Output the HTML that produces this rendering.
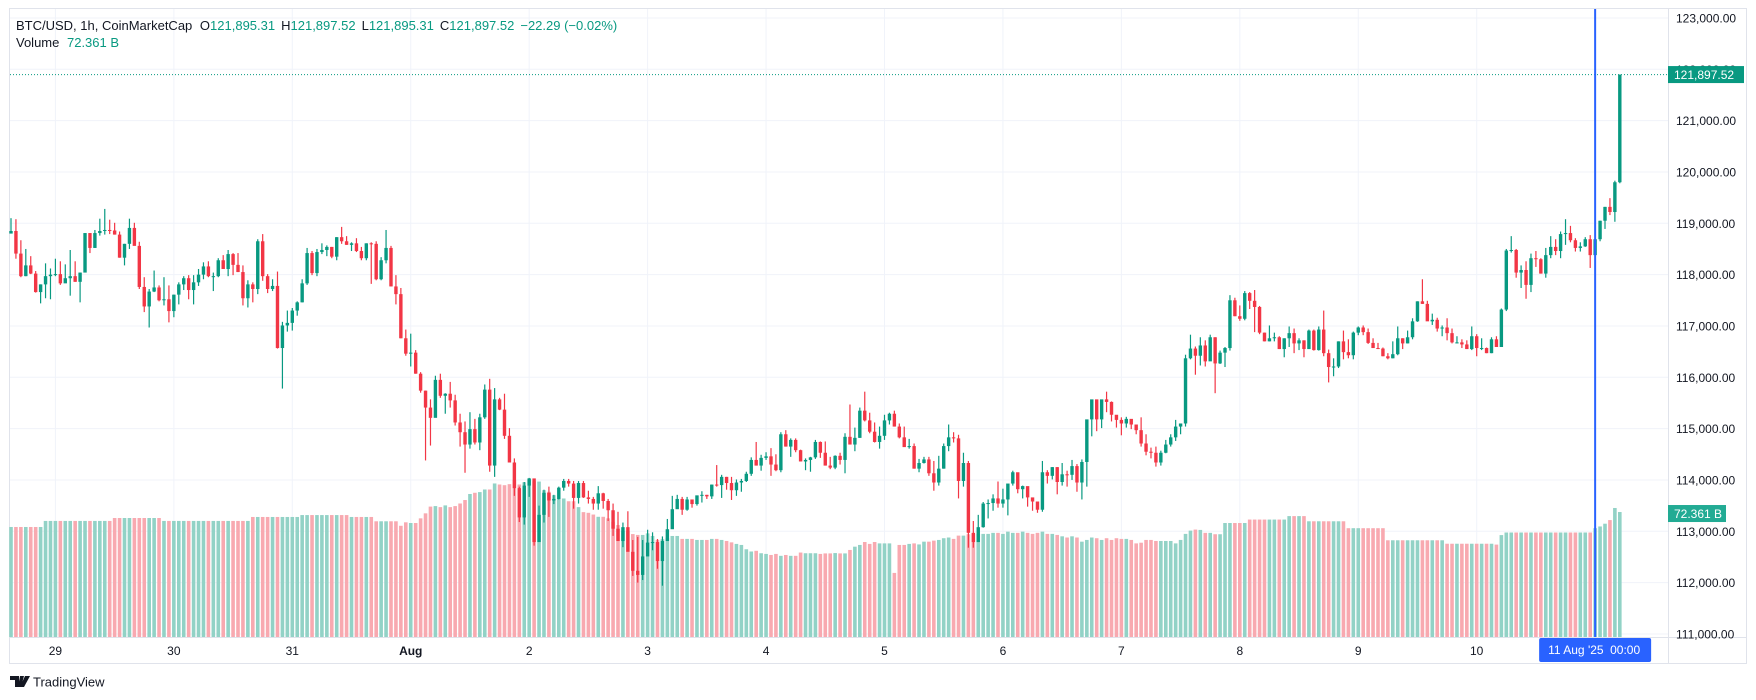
<!DOCTYPE html>
<html><head><meta charset="utf-8"><style>
html,body{margin:0;padding:0;background:#fff;width:1756px;height:700px;overflow:hidden}
svg{display:block;font-family:"Liberation Sans",sans-serif}
</style></head><body>
<svg id="chart" width="1756" height="700" viewBox="0 0 1756 700">
<rect x="9.5" y="8.5" width="1737" height="655" fill="#fff" stroke="#e0e3eb"/>
<g id="grid"></g>
<g id="vol"></g>
<g id="candles"></g>
<g id="axes"></g>
<g id="overlay"></g>
<text x="16" y="30" font-size="13" fill="#131722">BTC/USD, 1h, CoinMarketCap <tspan dx="4">O</tspan><tspan fill="#089981">121,895.31</tspan><tspan dx="6">H</tspan><tspan fill="#089981">121,897.52</tspan><tspan dx="6">L</tspan><tspan fill="#089981">121,895.31</tspan><tspan dx="6">C</tspan><tspan fill="#089981">121,897.52</tspan><tspan dx="6" fill="#089981">−22.29 (−0.02%)</tspan></text>
<text x="16" y="47" font-size="13" fill="#131722">Volume <tspan dx="4" fill="#089981">72.361 B</tspan></text>
<g>
<path d="M10 676h9v11h-4v-7h-5z M20 676h4l-3 11h-3z M25 676h5l-6 11h-4z" fill="#131722"/>
<text x="33" y="686.5" font-size="13" fill="#131722">TradingView</text>
</g>
</svg>
<script>
const firstOpen = 118800;
const closes = [118850,118410,117970,118180,118020,117660,117810,117970,118000,118010,117830,117930,117970,117860,118040,118810,118520,118810,118850,118870,118860,118780,118330,118600,118910,118560,117760,117380,117670,117750,117500,117520,117290,117610,117810,117930,117700,117850,118000,118160,117970,117970,118280,118110,118400,118190,118050,117540,117810,117720,118650,117970,117720,117780,116570,117010,117060,117300,117460,117830,118420,118030,118440,118480,118540,118350,118730,118650,118580,118610,118460,118320,118610,118600,117910,118280,118520,117770,117620,116760,116460,116480,116070,115740,115410,115210,115950,115640,115680,115550,115120,114930,114690,114990,114730,115220,115760,114280,115570,115370,114860,114340,113840,113270,113890,114030,112790,113320,113750,113600,113630,113850,113980,113930,113650,113940,113660,113630,113540,113740,113590,113410,113050,112810,113080,112600,112230,112150,112510,112780,112790,112420,112810,113040,113430,113630,113420,113620,113530,113700,113710,113680,113910,113900,114060,113940,113800,113950,113980,114120,114390,114280,114430,114460,114300,114190,114890,114650,114780,114580,114360,114390,114440,114740,114530,114280,114240,114470,114390,114840,114690,114820,115350,115160,114940,114740,114860,115160,115290,115040,114830,114640,114660,114220,114330,114400,114130,113950,114220,114660,114830,114810,113980,114330,112970,112790,113080,113540,113550,113640,113540,113620,113930,114150,113820,113880,113660,113580,113420,114150,114080,114250,113960,114110,114100,114270,113950,114350,115180,115570,115180,115570,115520,115270,115170,115100,115190,115080,114970,114710,114550,114530,114340,114530,114690,114830,115040,115100,116370,116560,116420,116620,116310,116780,116270,116480,116570,117500,117190,117140,117640,117490,117370,116870,116700,116760,116780,116550,116760,116860,116660,116720,116550,116910,116530,116930,116470,116200,116210,116700,116490,116430,116870,116970,116880,116670,116570,116560,116410,116370,116450,116760,116660,116780,117090,117480,117430,117090,117120,116950,116970,116860,116680,116680,116640,116550,116800,116570,116570,116470,116740,116590,117320,118470,118480,118040,118090,117800,118320,118300,118020,118380,118540,118460,118790,118810,118670,118520,118550,118690,118380,118690,119050,119320,119220,119800,121897.52];
const highs = [119100,119080,118670,118500,118360,118070,117810,118220,118120,118310,118260,118200,118480,118260,118040,118810,118810,118870,119090,119280,119070,119010,118840,118600,119090,119010,118640,117950,117720,118080,117790,117950,117790,117610,117850,117970,117990,117990,118110,118240,118260,118040,118320,118380,118480,118420,118420,118180,117890,117850,118690,118790,118010,117910,118060,117080,117300,117350,117480,117910,118520,118460,118500,118610,118570,118540,118730,118930,118750,118630,118710,118540,118610,118630,118650,118340,118870,118560,117990,117740,116930,116850,116530,116100,115740,115570,116030,116070,115690,115910,115660,115290,115140,115320,115190,115290,115860,115970,115790,115600,115680,115010,114420,113870,113960,114040,113980,113500,113810,113870,113710,113870,114020,114020,113980,113980,113980,113790,113670,113880,113750,113630,113540,113380,113170,113390,112830,112890,112830,113030,112980,112850,112900,113240,113690,113710,113670,113670,113610,113690,113780,113710,113910,114290,114100,114060,114060,114010,114020,114160,114440,114740,114490,114540,114620,114500,114930,114970,114810,114810,114590,114420,114450,114780,114750,114750,114450,114480,114530,114910,115470,115020,115410,115720,115310,115120,115040,115270,115310,115350,115100,115040,114800,114710,114410,114450,114450,114370,114470,114710,115080,114930,114880,114530,114370,113200,113320,113570,113620,113720,113970,113830,113910,114180,114140,113890,113830,113630,113540,114370,114190,114250,114250,114330,114180,114390,114310,114400,115120,115490,115490,115530,115720,115530,115240,115220,115230,115140,115040,115220,114890,114630,114650,114570,114780,114890,115170,115080,116440,116830,116600,116780,116720,116830,116780,116520,116590,117600,117550,117400,117680,117660,117700,117390,116870,117010,116870,116800,116760,116990,116950,116760,116720,116930,116930,116990,117300,116540,116370,116700,116910,116740,116890,116990,117010,116950,116760,116670,116580,116470,116700,116990,116760,116910,117150,117480,117910,117490,117240,117160,117010,117150,116950,116800,116740,116720,116990,116840,116760,116580,116780,116800,117340,118500,118750,118500,118180,118260,118410,118460,118320,118520,118750,118690,118840,119080,118950,118710,118630,118730,118770,118690,119050,119320,119490,119830,121897.52];
const lows = [118800,118310,117950,117970,118010,117650,117440,117540,117520,117970,117800,117840,117590,117860,117460,118070,118420,118520,118760,118780,118790,118780,118330,118180,118500,118580,117720,117270,116970,117660,117480,117400,117070,117170,117420,117700,117520,117420,117780,117910,117950,117680,117950,118110,117970,117990,118050,117400,117360,117460,117620,117880,117640,117680,116560,115780,116890,116910,117200,117460,117800,117990,117970,118400,118360,118320,118280,118600,118580,118460,118440,118280,118280,117820,117890,117890,118220,117770,117420,116760,116420,116210,116070,115700,114380,114670,115230,115600,115290,115410,115060,114650,114140,114610,114690,114580,115190,114160,114060,115360,114800,114340,113690,113180,113130,113670,112720,112890,113170,113280,113530,113620,113790,113870,113440,113540,113650,113540,113420,113420,113440,113200,112910,112820,112690,112650,112130,112000,112050,112570,112630,112270,111940,112830,113070,113440,113320,113400,113460,113500,113560,113630,113630,113870,113650,113810,113610,113690,113770,113960,114080,114280,114180,114390,114080,114170,114150,114650,114450,114540,114360,114190,114160,114410,114430,114280,114210,114210,114300,114130,114690,114560,114820,115140,114910,114730,114610,114780,115080,115040,114810,114670,114610,114220,114150,114320,114080,113790,113890,114220,114560,114730,113640,113870,112680,112680,112790,113070,113250,113400,113460,113460,113310,113890,113740,113640,113480,113400,113360,113380,113930,114010,113720,113890,113870,114000,113770,113620,113870,114850,114950,115010,115320,115140,115020,114870,115020,114990,114890,114650,114480,114420,114260,114280,114520,114650,114760,114890,115040,116350,116050,116230,116210,116320,115690,116260,116200,116520,117190,117100,117110,117330,116880,116840,116700,116700,116700,116550,116390,116590,116470,116530,116390,116550,116520,116520,116410,115900,116020,116180,116350,116370,116350,116820,116820,116650,116570,116550,116410,116350,116370,116430,116550,116660,116740,117080,117430,117100,117020,116890,116800,116720,116660,116660,116570,116550,116530,116410,116530,116470,116470,116590,116590,117290,118430,117940,117740,117530,117660,118150,118020,117940,118320,118380,118320,118580,118630,118450,118450,118540,118130,118220,118650,118890,119160,119030,119780];
const volumes = [63.7,63.7,63.7,63.7,63.7,63.7,63.7,67.2,67.2,67.2,67.2,67.2,67.2,67.2,67.2,67.2,67.2,67.2,67.2,67.2,67.2,68.9,68.9,68.9,68.9,68.9,68.9,68.9,68.9,68.9,68.9,67.2,67.2,67.2,67.2,67.2,67.2,67.2,67.2,67.2,67.2,67.2,67.2,67.2,67.2,67.2,67.2,67.2,67.2,69.5,69.5,69.5,69.5,69.5,69.5,69.5,69.5,69.5,69.5,70.6,70.6,70.6,70.6,70.6,70.6,70.6,70.6,70.6,70.6,69.5,69.5,69.5,69.5,69.5,67.0,67.0,67.0,67.0,67.0,64.4,66.4,66.0,66.0,68.7,71.6,75.5,75.8,75.2,76.2,75.2,75.8,77.3,79.3,82.8,83.5,83.9,85.4,85.4,88.9,88.3,87.9,88.5,90.8,88.3,89.6,90.8,90.2,90.0,85.0,84.1,82.1,80.2,80.2,78.6,78.6,75.2,72.3,71.9,70.9,69.6,69.6,68.7,66.7,64.8,61.4,61.4,59.6,59.1,59.1,60.0,58.5,56.2,56.6,57.2,58.5,58.5,56.8,56.8,56.8,56.2,56.2,56.2,56.8,56.8,56.2,55.6,54.8,53.9,53.3,50.8,49.5,49.9,48.5,48.1,47.5,48.1,47.0,47.5,47.0,47.0,48.9,48.5,48.5,48.5,48.1,48.4,48.4,48.6,48.4,48.4,50.4,52.3,53.3,55.0,53.9,55.0,54.2,54.2,54.2,37.1,53.3,53.3,53.9,54.2,53.6,55.2,55.2,55.8,56.2,57.2,57.6,56.8,58.7,58.7,59.5,59.5,59.7,59.7,59.7,60.3,60.3,59.7,61.0,60.3,60.3,61.0,60.3,59.7,60.3,61.0,59.7,59.7,59.1,58.3,57.6,58.3,57.6,55.2,56.2,57.6,57.2,56.2,57.2,56.2,57.2,56.8,56.8,56.2,54.2,54.6,56.2,56.2,55.6,55.6,55.6,55.6,54.2,56.2,59.7,61.6,62.2,62.0,60.3,60.3,59.5,59.5,66.0,66.0,66.0,66.0,66.0,68.0,68.0,68.0,68.0,68.0,68.0,68.0,68.0,70.0,70.0,70.0,70.0,67.0,67.0,67.0,67.0,67.0,67.0,67.0,67.0,63.0,63.0,63.0,63.0,63.0,63.0,63.0,63.0,56.0,56.0,56.0,56.0,56.0,56.0,56.0,56.0,56.0,56.0,56.0,56.0,54.0,54.0,54.0,54.0,54.0,54.0,54.0,54.0,54.0,54.0,53.5,59.0,60.5,60.5,60.5,60.5,60.5,60.5,60.5,60.5,60.5,60.5,60.5,60.5,60.5,60.5,60.5,60.5,60.5,60.5,63.0,64.0,65.6,67.7,74.7,72.361];
const priceTicks = [111000,112000,113000,114000,115000,116000,117000,118000,119000,120000,121000,122000,123000];
const dayLabels = ["29","30","31","Aug","2","3","4","5","6","7","8","9","10"];
const dayStartIndex = [9,33,57,81,105,129,153,177,201,225,249,273,297];
const crosshairIndex = 321;
const lastPrice = 121897.52;
const lastVolume = 72.361;

const NS = "http://www.w3.org/2000/svg";
const PLOT_L = 10, PLOT_R = 1668, PLOT_B = 637;
function xScale(i){ return 11 + 4.935 * i; }
function yScale(p){ return 223.3 + (119000 - p) * 0.05133; }
function vScale(v){ return PLOT_B - v / 0.579; }
function mk(tag, attrs, parent){ const e = document.createElementNS(NS, tag); for (const k in attrs) e.setAttribute(k, attrs[k]); parent.appendChild(e); return e; }
const fmt = n => n.toLocaleString("en-US",{minimumFractionDigits:2,maximumFractionDigits:2});

const grid = document.getElementById("grid");
priceTicks.forEach(p => {
  const l = mk("line", {x1:PLOT_L, x2:PLOT_R, y1:yScale(p), y2:yScale(p), stroke:"#f0f3fa", "stroke-width":1}, grid);
  
  
});
dayStartIndex.forEach(i => {
  const l = mk("line", {x1:xScale(i), x2:xScale(i), y1:9, y2:PLOT_B, stroke:"#f0f3fa", "stroke-width":1}, grid);
  
  
});

const volG = document.getElementById("vol");
const cG = document.getElementById("candles");
let prev = firstOpen;
closes.forEach((c, i) => {
  const o = prev; prev = c;
  const up = c >= o;
  const x = xScale(i);
  const vb = mk("rect", {x:x-1.8, y:vScale(volumes[i]), width:3.6, height:PLOT_B - vScale(volumes[i]), fill: up ? "#92d2c6" : "#f8a9b0"}, volG);
  
  
  const col = up ? "#089981" : "#f23645";
  const w = mk("line", {x1:x, x2:x, y1:yScale(highs[i]), y2:yScale(lows[i]), stroke:col, "stroke-width":1.2}, cG);
  
  
  const top = yScale(Math.max(o,c)), bot = yScale(Math.min(o,c));
  const b = mk("rect", {x:x-1.7, y:top, width:3.4, height:Math.max(1, bot-top), fill:col}, cG);
  
  
});

const axes = document.getElementById("axes");
mk("line", {x1:PLOT_R+0.5, x2:PLOT_R+0.5, y1:9, y2:664, stroke:"#e0e3eb"}, axes);
mk("line", {x1:10, x2:1746, y1:PLOT_B+0.5, y2:PLOT_B+0.5, stroke:"#e0e3eb"}, axes);
priceTicks.forEach(p => {
  const t = mk("text", {x:1676, y:yScale(p)+4.5, "font-size":12, fill:"#131722"}, axes);
  t.textContent = fmt(p);
  
  
});
dayLabels.forEach((d, k) => {
  const t = mk("text", {x:xScale(dayStartIndex[k]), y:655, "font-size":12, fill:"#131722", "text-anchor":"middle", "font-weight": d==="Aug" ? "bold" : "normal"}, axes);
  t.textContent = d;
  
  
});

const ov = document.getElementById("overlay");
const ly = yScale(lastPrice);
const pl = mk("line", {x1:PLOT_L, x2:PLOT_R, y1:ly, y2:ly, stroke:"#089981", "stroke-dasharray":"1 2", "stroke-width":1}, ov);


const pb = mk("rect", {x:PLOT_R, y:ly-8.5, width:76, height:17, fill:"#089981"}, ov);


const pt = mk("text", {x:PLOT_R+6, y:ly+4.5, "font-size":12, fill:"#fff"}, ov);
pt.textContent = fmt(lastPrice);


const vy = vScale(lastVolume);
const vbx = mk("rect", {x:PLOT_R, y:vy-7, width:58, height:17, fill:"#22ab94"}, ov);


const vt = mk("text", {x:PLOT_R+6, y:vy+6, "font-size":12, fill:"#fff"}, ov);
vt.textContent = lastVolume.toFixed(3) + " B";


const cx = xScale(crosshairIndex);
const ch = mk("line", {x1:cx, x2:cx, y1:9, y2:PLOT_B, stroke:"#2962ff", "stroke-width":2}, ov);


const cb = mk("rect", {x:cx-56, y:PLOT_B+1, width:112, height:24, fill:"#2962ff", rx:2}, ov);


const ct = mk("text", {x:cx-47, y:PLOT_B+17, "font-size":12, fill:"#fff"}, ov);
ct.textContent = "11 Aug '25";


const ct2 = mk("text", {x:cx+15, y:PLOT_B+17, "font-size":12, fill:"#fff"}, ov);
ct2.textContent = "00:00";


</script>
</body></html>
